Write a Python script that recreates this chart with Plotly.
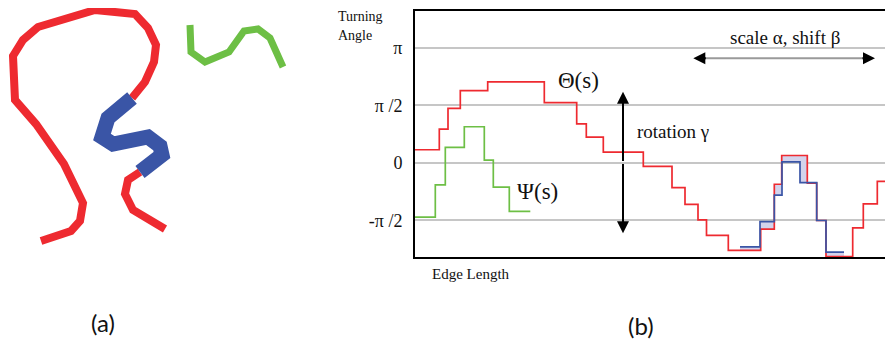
import plotly.graph_objects as go

# The browser page adds an 8px body margin; the figure is sized/offset to compensate.
OFF = 8
W, H = 893 - OFF, 343 - OFF

# ---------- panel (a): polylines (image pixel coordinates) ----------
red1_x = [41, 71, 80, 83, 64, 36, 15, 13, 23, 38, 95, 135, 148, 156, 154, 145, 132]
red1_y = [241, 231, 221, 203, 164, 124, 100, 56, 40, 27, 10, 14, 28, 45, 62, 82, 98]
blue_x = [132, 108, 102, 113, 148, 160, 162, 153, 140]
blue_y = [98, 118, 137, 144, 137, 146, 155, 164, 172]
red2_x = [140, 128, 125, 133, 165]
red2_y = [172, 180, 194, 210, 229]
green_x = [190, 191, 205, 229, 244, 258, 270, 283]
green_y = [25, 52, 62, 52, 31, 29, 38, 67]

# ---------- panel (b): turning functions (y in units of pi/2) ----------
theta_x = [0, 24.3, 33, 45.3, 72.7, 129.3, 161.7, 171.3, 188.3, 228.3, 257, 270, 283,
           291.5, 313.3, 345.7, 359.3, 366.7, 392.3, 401.7, 411, 437.7, 448.3, 462.3, 478]
theta_y = [0.23, 0.59, 0.95, 1.26, 1.41, 1.05, 0.68, 0.45, 0.19, -0.06, -0.43, -0.72, -0.99,
           -1.26, -1.52, -1.15, -0.37, 0.13, -0.35, -1.0, -1.63, -1.13, -0.71, -0.32, -0.32]
psi_x = [0, 20.3, 30.3, 49.3, 69.3, 78.3, 94.3, 115.3]
psi_y = [-0.94, -0.38, 0.27, 0.63, 0.05, -0.42, -0.84, -0.84]
match_x = [325, 345, 359.3, 367, 385, 401.7, 411, 429]
match_y = [-1.46, -1.02, -0.56, 0.02, -0.34, -1.0, -1.55, -1.55]
tick_vals = [-1, 0, 1, 2]
tick_text = ["-π /2", "0", "π /2", "π"]

RED = "#ee2a30"
BLUE = "#3a55a6"
GREEN = "#6dbf45"
SERIF = "Liberation Serif"


def px(x):
    return (x - OFF) / W


def py(y):
    return 1 - (y - OFF) / H


def step_at(xs, ys, x):
    v = ys[0]
    for xi, yi in zip(xs, ys):
        if xi <= x:
            v = yi
    return v


def hv_path(xs, ys, lo, hi):
    pts_x = [lo]
    pts_y = [step_at(xs, ys, lo)]
    for xi in xs:
        if lo < xi < hi:
            pts_x += [xi, xi]
            pts_y += [pts_y[-1], step_at(xs, ys, xi)]
    pts_x.append(hi)
    pts_y.append(pts_y[-1])
    return pts_x, pts_y


lo, hi = match_x[0], match_x[-1]
bx, by = hv_path(match_x, match_y, lo, hi)
rx, ry = hv_path(theta_x, theta_y, lo, hi)
fill_x = bx + rx[::-1]
fill_y = by + ry[::-1]

fig = go.Figure()

# panel (a)
fig.add_trace(go.Scatter(x=red1_x, y=red1_y, mode="lines", line=dict(color=RED, width=8),
                         xaxis="x", yaxis="y", hoverinfo="skip"))
fig.add_trace(go.Scatter(x=red2_x, y=red2_y, mode="lines", line=dict(color=RED, width=8),
                         xaxis="x", yaxis="y", hoverinfo="skip"))
fig.add_trace(go.Scatter(x=blue_x, y=blue_y, mode="lines", line=dict(color=BLUE, width=15),
                         xaxis="x", yaxis="y", hoverinfo="skip"))
fig.add_trace(go.Scatter(x=green_x, y=green_y, mode="lines", line=dict(color=GREEN, width=7),
                         xaxis="x", yaxis="y", hoverinfo="skip"))

# panel (b)
fig.add_trace(go.Scatter(x=fill_x, y=fill_y, mode="lines", fill="toself",
                         fillcolor="#d3d3ec", line=dict(width=0),
                         xaxis="x2", yaxis="y2", hoverinfo="skip"))
fig.add_trace(go.Scatter(x=theta_x, y=theta_y, mode="lines", line=dict(color=RED, width=1.7, shape="hv"),
                         xaxis="x2", yaxis="y2", hoverinfo="skip"))
fig.add_trace(go.Scatter(x=psi_x, y=psi_y, mode="lines", line=dict(color=GREEN, width=1.7, shape="hv"),
                         xaxis="x2", yaxis="y2", hoverinfo="skip"))
fig.add_trace(go.Scatter(x=match_x, y=match_y, mode="lines", line=dict(color=BLUE, width=1.7, shape="hv"),
                         xaxis="x2", yaxis="y2", hoverinfo="skip"))

ann = []


def txt(x, y, s, size, ref="x2", family=SERIF, xanchor="center"):
    d = dict(x=x, y=y, text=s, showarrow=False, font=dict(family=family, size=size, color="#111"),
             xanchor=xanchor, yanchor="middle")
    if ref == "paper":
        d.update(xref="paper", yref="paper")
    else:
        d.update(xref="x2", yref="y2")
    ann.append(d)


txt(px(336), py(17), "Turning", 14, ref="paper", xanchor="left")
txt(px(336), py(35), "Angle", 14, ref="paper", xanchor="left")
txt(px(471), py(274), "Edge Length", 15, ref="paper")
txt(163.5, 1.43, "Θ(s)", 23)
txt(122, -0.5, "Ψ(s)", 23)
txt(258, 0.54, "rotation γ", 19)
txt(370, 2.19, "scale α, shift β", 19)
txt(px(103), py(322), "(a)", 24, ref="paper", family="Lato")
txt(px(641), py(325), "(b)", 24, ref="paper", family="Lato")

# vertical double arrow (rotation)
for tip in (1.24, -1.22):
    ann.append(dict(x=208, y=tip, ax=208, ay=0.01, xref="x2", yref="y2", axref="x2", ayref="y2",
                    text="", showarrow=True, arrowhead=2, arrowsize=1.2, arrowwidth=2,
                    arrowcolor="#000"))
# horizontal double arrow heads (scale/shift)
for tip, off in ((278.3, 14), (460, -14)):
    ann.append(dict(x=tip, y=1.82, ax=off, ay=0, xref="x2", yref="y2",
                    text="", showarrow=True, arrowhead=2, arrowsize=1.2, arrowwidth=2,
                    arrowcolor="#000"))

fig.update_layout(
    width=W, height=H, margin=dict(l=0, r=0, t=0, b=0),
    paper_bgcolor="white", plot_bgcolor="rgba(0,0,0,0)", showlegend=False,
    xaxis=dict(domain=[0, px(295)], range=[OFF, 295], visible=False),
    yaxis=dict(domain=[0, 1], range=[343, OFF], visible=False),
    xaxis2=dict(domain=[px(415), 1], range=[0, 478], showgrid=False, zeroline=False,
                showticklabels=False, ticks="", showline=True, linecolor="#000", linewidth=2,
                mirror=True, anchor="y2"),
    yaxis2=dict(domain=[py(257), py(11)], range=[-1.635, 2.643], anchor="x2",
                tickvals=tick_vals, ticktext=tick_text, ticks="", showgrid=True,
                gridcolor="#c6c6c6", gridwidth=1.5, zeroline=False, showline=True,
                linecolor="#000", linewidth=2, mirror=False, ticklabelstandoff=7,
                tickfont=dict(family=SERIF, size=18, color="#111")),
    shapes=[dict(type="line", xref="x2", yref="y2", x0=288, x1=450, y0=1.82, y1=1.82,
                 line=dict(color="#9a9a9a", width=2))],
    annotations=ann,
)

fig.write_html("out.html")
